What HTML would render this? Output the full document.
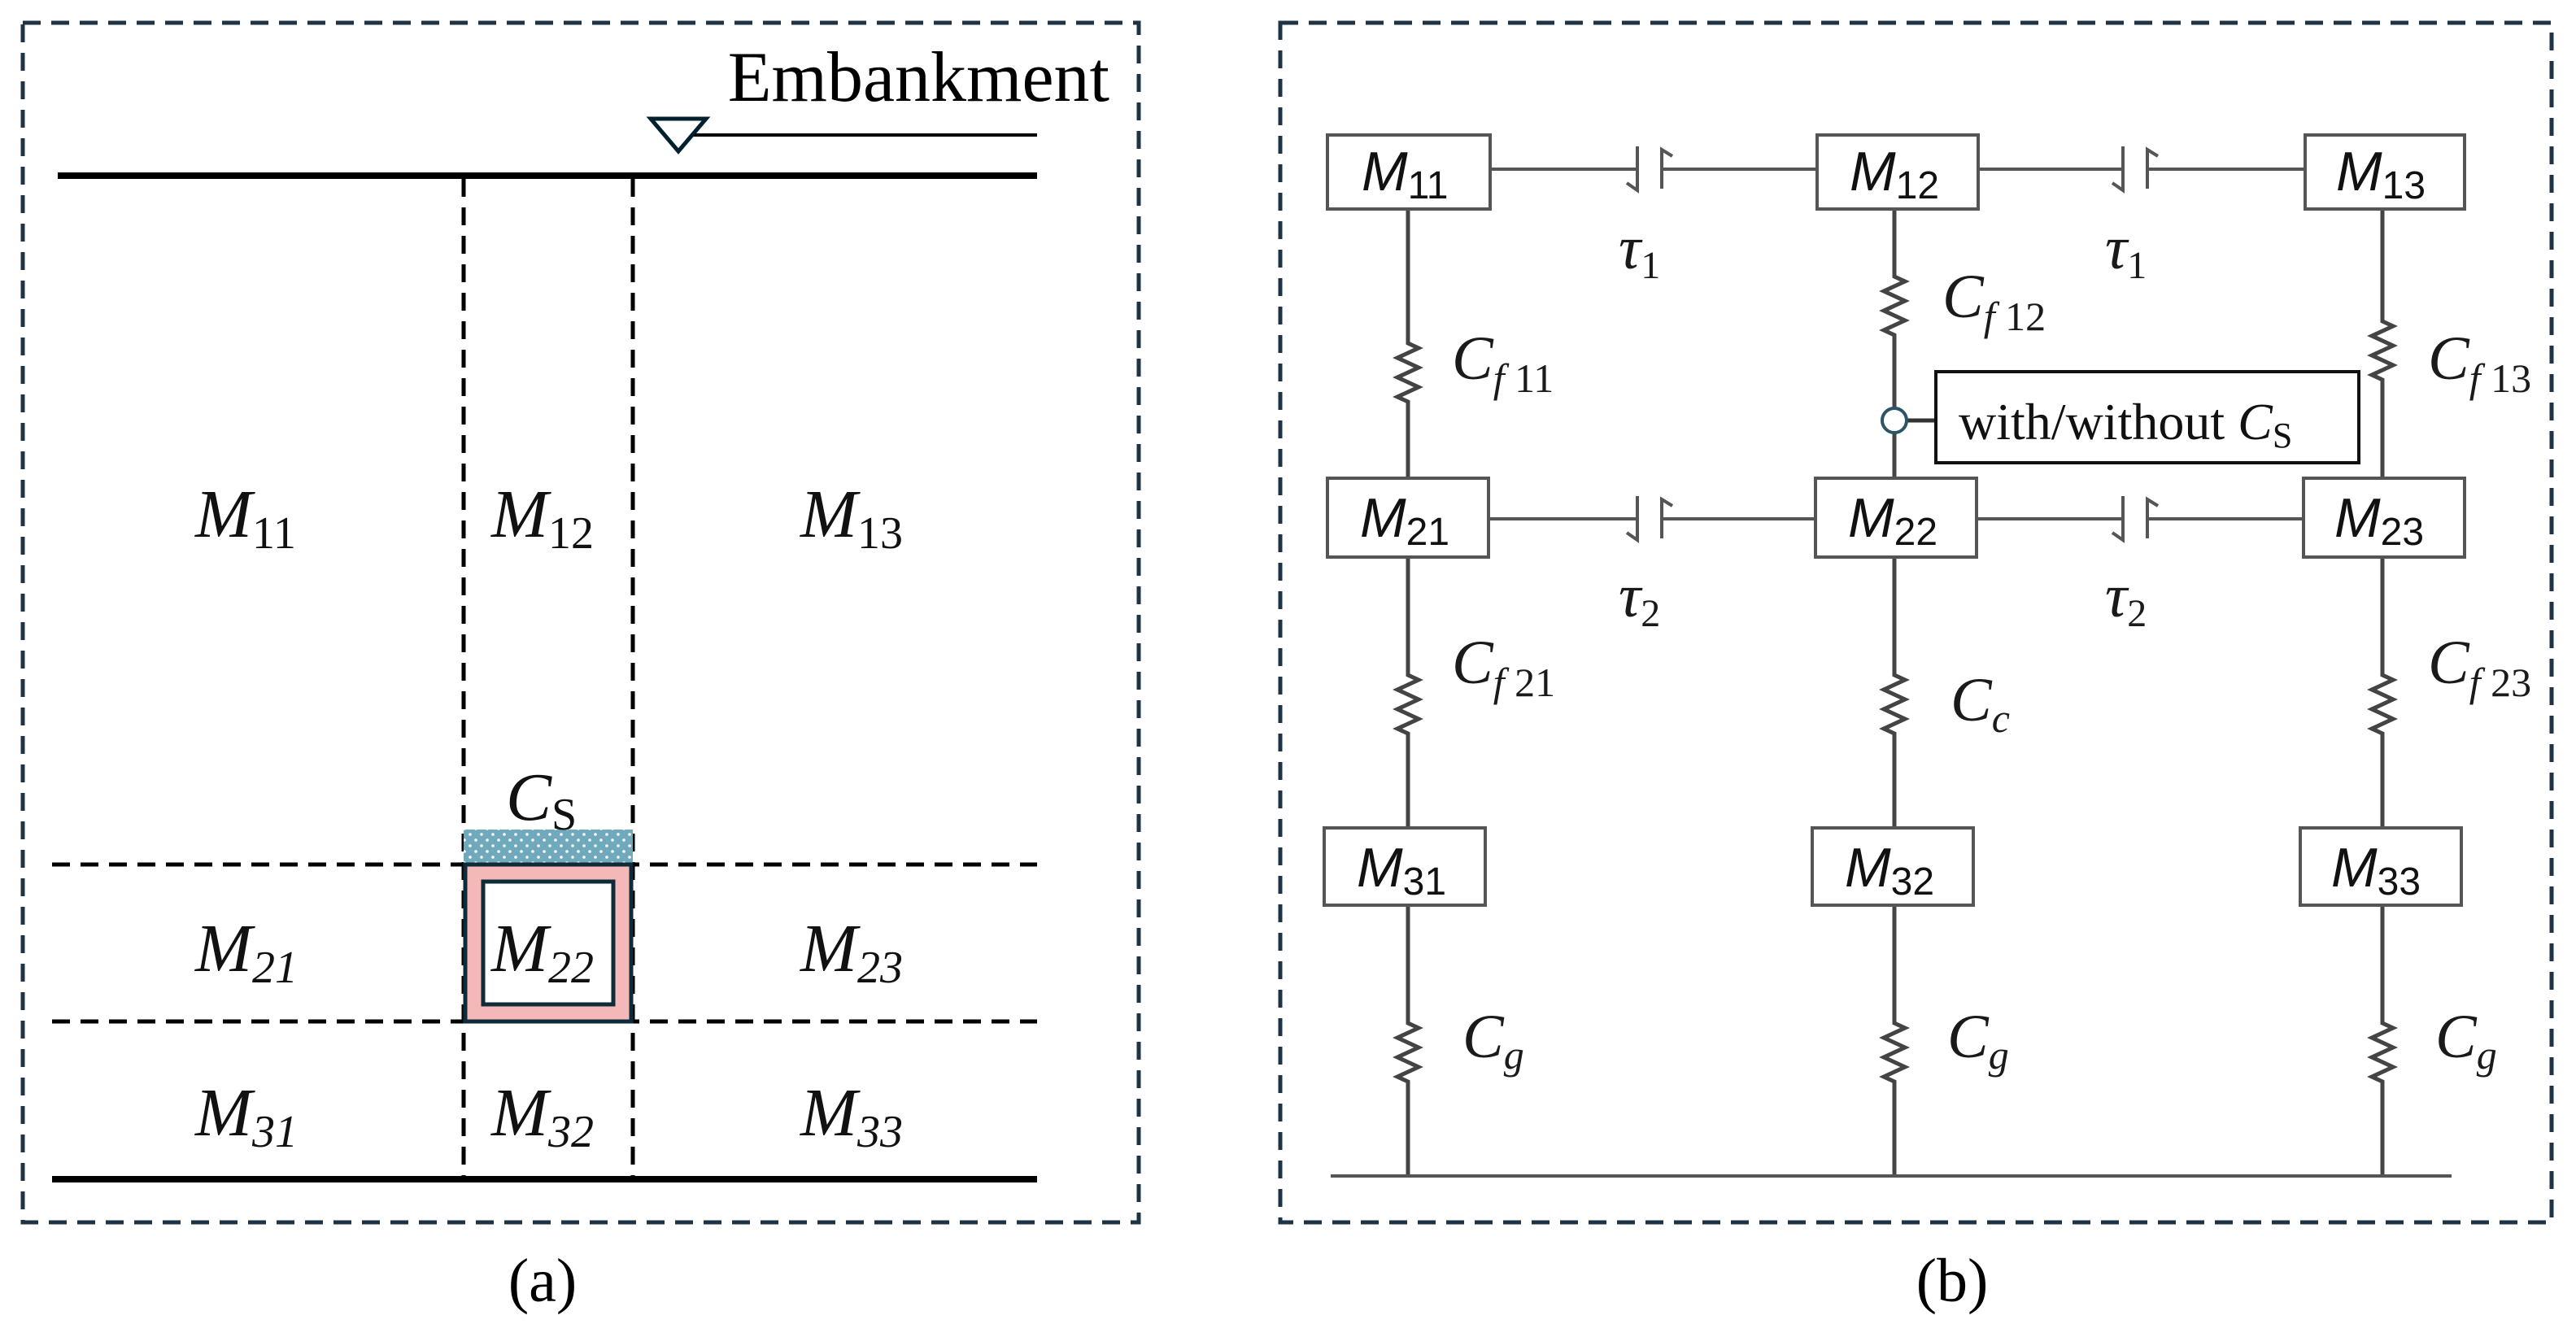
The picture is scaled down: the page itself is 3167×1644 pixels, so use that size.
<!DOCTYPE html>
<html><head><meta charset="utf-8"><style>
html,body{margin:0;padding:0;background:#fff;}
svg{display:block}
.it{font-family:"Liberation Serif",serif;font-style:italic;}
.ss{font-family:"Liberation Sans",sans-serif;font-style:italic;}
</style></head><body>
<svg width="3167" height="1644" viewBox="0 0 3167 1644" xmlns="http://www.w3.org/2000/svg">
<defs>
<pattern id="dots" width="14" height="14" patternUnits="userSpaceOnUse">
<rect width="14" height="14" fill="#6fa9bb"/><circle cx="4" cy="4" r="1.8" fill="#fff"/><circle cx="11" cy="11" r="1.8" fill="#fff"/>
</pattern>
</defs>
<rect x="28" y="28" width="1372" height="1475" fill="none" stroke="#1e3346" stroke-width="5" stroke-dasharray="22,13"/>
<line x1="71" y1="216" x2="1275" y2="216" stroke="#000" stroke-width="8"/>
<line x1="850" y1="166" x2="1275" y2="166" stroke="#000" stroke-width="4"/>
<polygon points="800,146 868,146 834,186" fill="#fff" stroke="#00202d" stroke-width="5"/>
<text x="1364" y="124" font-family="Liberation Serif,serif" font-size="88" text-anchor="end">Embankment</text>
<g stroke="#000" stroke-width="5" stroke-dasharray="22,13">
<line x1="570" y1="220" x2="570" y2="1450"/>
<line x1="778" y1="220" x2="778" y2="1450"/>
<line x1="64" y1="1063" x2="1275" y2="1063"/>
<line x1="64" y1="1256" x2="1275" y2="1256"/>
</g>
<line x1="64" y1="1450" x2="1275" y2="1450" stroke="#000" stroke-width="8"/>
<rect x="570" y="1020" width="208" height="43" fill="url(#dots)"/>
<rect x="572" y="1063" width="204" height="193" fill="#f4b8b8" stroke="#0f2a38" stroke-width="5"/>
<rect x="594" y="1084" width="160" height="151" fill="#fff" stroke="#0f2a38" stroke-width="5"/>
<g class="it" font-size="84" fill="#111">
<text x="240" y="660">M<tspan font-style="normal" font-size="56" dy="14">11</tspan></text>
<text x="604" y="660">M<tspan font-style="normal" font-size="56" dy="14">12</tspan></text>
<text x="984" y="660">M<tspan font-style="normal" font-size="56" dy="14">13</tspan></text>
<text x="240" y="1194">M<tspan font-size="56" dy="14">21</tspan></text>
<text x="604" y="1194">M<tspan font-size="56" dy="14">22</tspan></text>
<text x="984" y="1194">M<tspan font-size="56" dy="14">23</tspan></text>
<text x="240" y="1396">M<tspan font-size="56" dy="14">31</tspan></text>
<text x="604" y="1396">M<tspan font-size="56" dy="14">32</tspan></text>
<text x="984" y="1396">M<tspan font-size="56" dy="14">33</tspan></text>
<text x="622" y="1008">C<tspan font-style="normal" font-size="56" dy="12">S</tspan></text>
</g>
<text x="667" y="1600" font-family="Liberation Serif,serif" font-size="76" text-anchor="middle">(a)</text>

<rect x="1574" y="28" width="1563" height="1475" fill="none" stroke="#1e3346" stroke-width="5" stroke-dasharray="22,13"/>
<g stroke="#555" stroke-width="4" fill="none">
<line x1="1832" y1="208" x2="2013" y2="208"/><line x1="2043" y1="208" x2="2234" y2="208"/>
<line x1="2432" y1="208" x2="2610" y2="208"/><line x1="2640" y1="208" x2="2834" y2="208"/>
<line x1="1832" y1="638" x2="2013" y2="638"/><line x1="2043" y1="638" x2="2234" y2="638"/>
<line x1="2432" y1="638" x2="2610" y2="638"/><line x1="2640" y1="638" x2="2834" y2="638"/>
<path d="M2013 180 V234 L2000 225"/><path d="M2043 232 V184 L2056 192"/>
<path d="M2610 180 V234 L2597 225"/><path d="M2640 232 V184 L2653 192"/>
<path d="M2013 610 V664 L2000 655"/><path d="M2043 662 V614 L2056 622"/>
<path d="M2610 610 V664 L2597 655"/><path d="M2640 662 V614 L2653 622"/>
</g>
<g stroke="#444" stroke-width="5" fill="none" stroke-linejoin="miter">
<path d="M1731 257 V422 l13 6 l-26 12 l26 12 l-26 12 l26 12 l-26 12 l13 6 V588"/>
<path d="M1731 685 V830 l13 6 l-26 12 l26 12 l-26 12 l26 12 l-26 12 l13 6 V1018"/>
<path d="M1731 1113 V1258 l13 6 l-26 12 l26 12 l-26 12 l26 12 l-26 12 l13 6 V1446"/>
<path d="M2329 257 V340 l13 6 l-26 12 l26 12 l-26 12 l26 12 l-26 12 l13 6 V501"/>
<path d="M2329 533 V588"/>
<path d="M2329 685 V830 l13 6 l-26 12 l26 12 l-26 12 l26 12 l-26 12 l13 6 V1018"/>
<path d="M2329 1113 V1258 l13 6 l-26 12 l26 12 l-26 12 l26 12 l-26 12 l13 6 V1446"/>
<path d="M2929 257 V395 l13 6 l-26 12 l26 12 l-26 12 l26 12 l-26 12 l13 6 V588"/>
<path d="M2929 685 V830 l13 6 l-26 12 l26 12 l-26 12 l26 12 l-26 12 l13 6 V1018"/>
<path d="M2929 1113 V1258 l13 6 l-26 12 l26 12 l-26 12 l26 12 l-26 12 l13 6 V1446"/>
</g>
<line x1="1636" y1="1446" x2="3014" y2="1446" stroke="#555" stroke-width="4"/>
<g fill="#fff" stroke="#555" stroke-width="4">
<rect x="1632" y="166" width="200" height="91"/><rect x="2234" y="166" width="198" height="91"/><rect x="2834" y="166" width="196" height="91"/>
<rect x="1632" y="588" width="198" height="97"/><rect x="2232" y="588" width="198" height="97"/><rect x="2832" y="588" width="198" height="97"/>
<rect x="1628" y="1018" width="198" height="95"/><rect x="2228" y="1018" width="198" height="95"/><rect x="2828" y="1018" width="198" height="95"/>
</g>
<line x1="2345" y1="517" x2="2380" y2="517" stroke="#333" stroke-width="5"/>
<circle cx="2329" cy="517" r="15" fill="#fff" stroke="#2c5566" stroke-width="4"/>
<rect x="2380" y="457" width="520" height="112" fill="#fff" stroke="#111" stroke-width="4"/>
<text x="2408" y="540" font-family="Liberation Serif,serif" font-size="64" fill="#111">with/without <tspan font-style="italic">C</tspan><tspan font-size="44" dy="10">S</tspan></text>
<g class="ss" font-size="68" fill="#111">
<text x="1674" y="234">M<tspan font-style="normal" font-size="48" dy="10">11</tspan></text>
<text x="2274" y="234">M<tspan font-style="normal" font-size="48" dy="10">12</tspan></text>
<text x="2872" y="234">M<tspan font-style="normal" font-size="48" dy="10">13</tspan></text>
<text x="1672" y="660">M<tspan font-style="normal" font-size="48" dy="10">21</tspan></text>
<text x="2272" y="660">M<tspan font-style="normal" font-size="48" dy="10">22</tspan></text>
<text x="2870" y="660">M<tspan font-style="normal" font-size="48" dy="10">23</tspan></text>
<text x="1668" y="1090">M<tspan font-style="normal" font-size="48" dy="10">31</tspan></text>
<text x="2268" y="1090">M<tspan font-style="normal" font-size="48" dy="10">32</tspan></text>
<text x="2866" y="1090">M<tspan font-style="normal" font-size="48" dy="10">33</tspan></text>
</g>
<g class="it" font-size="76" fill="#1a1a1a">
<text x="1990" y="330">τ<tspan font-style="normal" font-size="48" dy="12">1</tspan></text>
<text x="2588" y="330">τ<tspan font-style="normal" font-size="48" dy="12">1</tspan></text>
<text x="1990" y="758">τ<tspan font-style="normal" font-size="48" dy="12">2</tspan></text>
<text x="2588" y="758">τ<tspan font-style="normal" font-size="48" dy="12">2</tspan></text>
<text x="1785" y="466">C<tspan font-size="50" dy="16">f</tspan><tspan font-style="normal" font-size="50"> 11</tspan></text>
<text x="2388" y="390">C<tspan font-size="50" dy="16">f</tspan><tspan font-style="normal" font-size="50"> 12</tspan></text>
<text x="2985" y="466">C<tspan font-size="50" dy="16">f</tspan><tspan font-style="normal" font-size="50"> 13</tspan></text>
<text x="1785" y="840">C<tspan font-size="50" dy="16">f</tspan><tspan font-style="normal" font-size="50"> 21</tspan></text>
<text x="2398" y="886">C<tspan font-size="50" dy="14">c</tspan></text>
<text x="2985" y="840">C<tspan font-size="50" dy="16">f</tspan><tspan font-style="normal" font-size="50"> 23</tspan></text>
<text x="1798" y="1300">C<tspan font-size="50" dy="14">g</tspan></text>
<text x="2394" y="1300">C<tspan font-size="50" dy="14">g</tspan></text>
<text x="2994" y="1300">C<tspan font-size="50" dy="14">g</tspan></text>
</g>
<text x="2400" y="1600" font-family="Liberation Serif,serif" font-size="76" text-anchor="middle">(b)</text>
</svg>
</body></html>
